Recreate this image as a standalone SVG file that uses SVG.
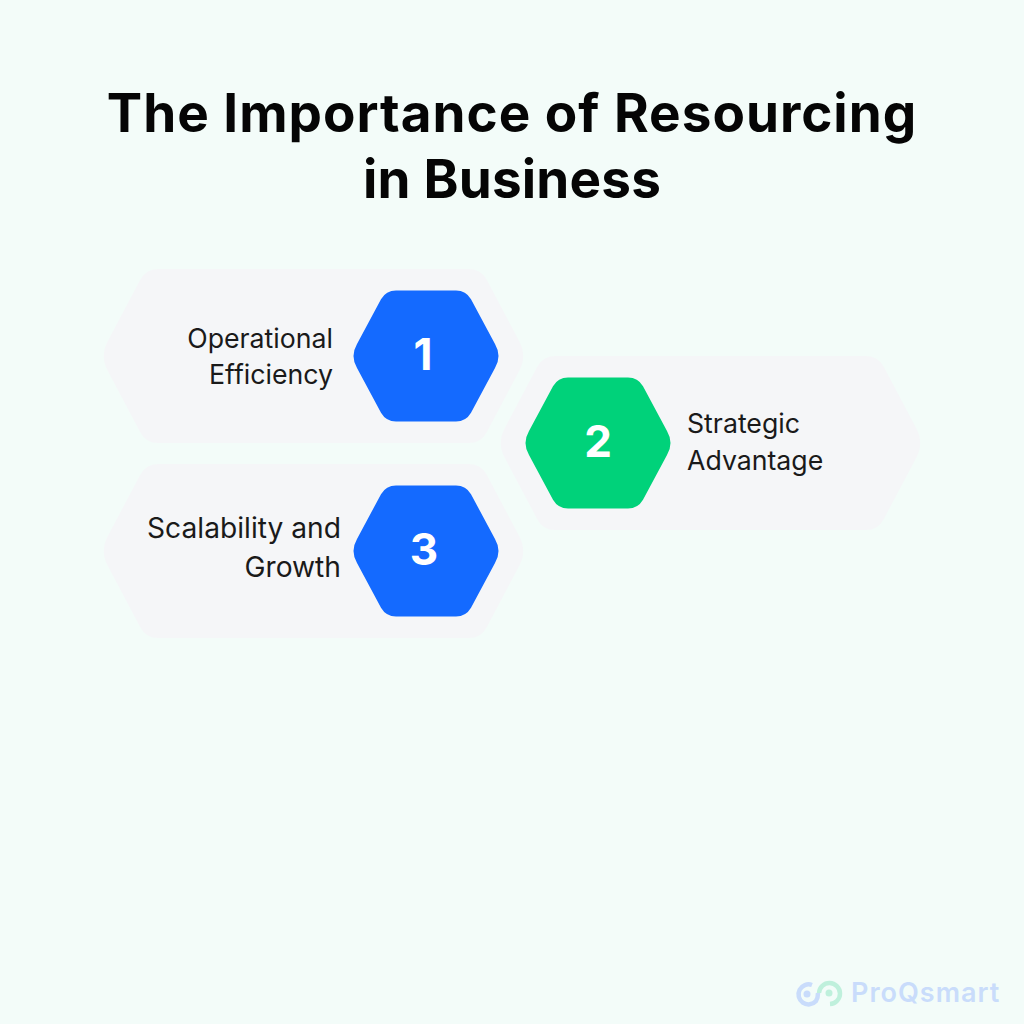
<svg xmlns="http://www.w3.org/2000/svg" width="1024" height="1024" viewBox="0 0 1024 1024">
<style>
.title{font-family:"Inter","Liberation Sans",sans-serif;font-weight:700;font-size:53px;fill:#050505;text-anchor:middle}
.label{font-family:"Inter","Liberation Sans",sans-serif;font-weight:400;font-size:26.7px;fill:#1a1a1a}
.label3{font-size:28.2px}
.num{font-family:"Inter","Liberation Sans",sans-serif;font-weight:700;font-size:44px;fill:#fff;text-anchor:middle}
.end{text-anchor:end}
.bg{fill:#f5f6f8}
.blue{fill:#146aff}
.green{fill:#00d27a}
</style>
<defs>
<path id="big" d="M-155.5,-87 L155.5,-87 Q167.5,-87 173.1,-76.4 L205.9,-14.6 Q213.5,0 205.9,14.6 L173.1,76.4 Q167.5,87 155.5,87 L-155.5,87 Q-167.5,87 -173.1,76.4 L-205.9,14.6 Q-213.5,0 -205.9,-14.6 L-173.1,-76.4 Q-167.5,-87 -155.5,-87Z"/>
<path id="hex" d="M-30,-65.5 L30,-65.5 Q40,-65.5 45,-56.8 L69,-12 Q76,0 69,12 L45,56.8 Q40,65.5 30,65.5 L-30,65.5 Q-40,65.5 -45,56.8 L-69,12 Q-76,0 -69,-12 L-45,-56.8 Q-40,-65.5 -30,-65.5Z"/>
</defs>
<rect width="1024" height="1024" fill="#f3fcf9"/>
<g id="title">
<text class="title" x="512" y="132" letter-spacing="1">The Importance of Resourcing</text>
<text class="title" x="512" y="198" letter-spacing="0.2">in Business</text>
</g>
<g id="connectors"></g>
<g id="node-1">
<use href="#big" class="bg" x="313.5" y="356"/>
<use href="#hex" class="blue" x="426" y="356"/>
<text class="num" x="423" y="370">1</text>
<text class="label end" x="333" y="348">Operational</text>
<text class="label end" x="333" y="384">Efficiency</text>
</g>
<g id="node-3">
<use href="#big" class="bg" x="313.5" y="551"/>
<use href="#hex" class="blue" x="426" y="551"/>
<text class="num" x="424" y="565">3</text>
<text class="label label3 end" x="341" y="538">Scalability and</text>
<text class="label label3 end" x="341" y="577">Growth</text>
</g>
<g id="node-2">
<use href="#big" class="bg" x="710.5" y="443"/>
<use href="#hex" class="green" x="598" y="443"/>
<text class="num" x="598" y="457">2</text>
<text class="label" x="687" y="433">Strategic</text>
<text class="label" x="687" y="470">Advantage</text>
</g>
<g id="logo">
<path d="M812,985 A10,10 0 1 0 816,1001 Q818,998 818,993" fill="none" stroke="#c9dcfb" stroke-width="4.5"/>
<circle cx="807" cy="994" r="3.5" fill="#c9dcfb"/>
<path d="M819,993 A10.5,10.5 0 1 1 830,1004" fill="none" stroke="#bff0dc" stroke-width="4.5"/>
<circle cx="829" cy="993" r="3.5" fill="#bff0dc"/>
<text x="851" y="1002" font-family="Inter,'Liberation Sans',sans-serif" font-weight="600" font-size="27" letter-spacing="1" fill="#c9dcfb">ProQsmart</text>
</g>
</svg>
